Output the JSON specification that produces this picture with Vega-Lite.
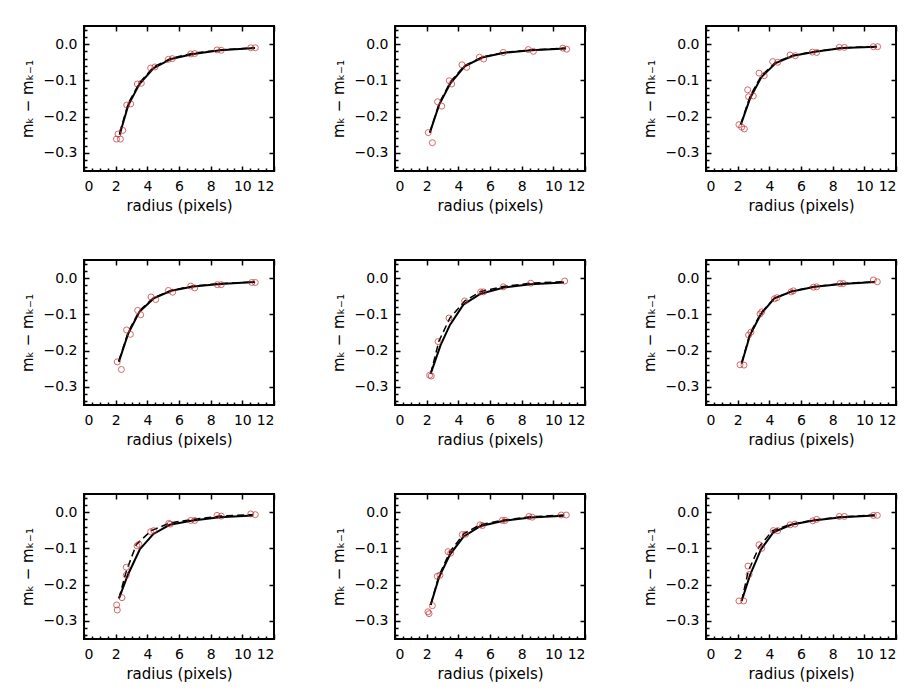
{
  "$schema": "https://vega.github.io/schema/vega-lite/v6.json",
  "background": "white",
  "padding": {"left": 19, "top": 24, "right": 5, "bottom": 5},
  "data": {"values": [
    {"p":1,"t":"pt","r":2.05,"d":-0.262},{"p":1,"t":"pt","r":2.3,"d":-0.262},{"p":1,"t":"pt","r":2.15,"d":-0.248},{"p":1,"t":"pt","r":2.45,"d":-0.238},{"p":1,"t":"pt","r":2.7,"d":-0.168},{"p":1,"t":"pt","r":2.95,"d":-0.165},{"p":1,"t":"pt","r":3.37,"d":-0.11},{"p":1,"t":"pt","r":3.62,"d":-0.108},{"p":1,"t":"pt","r":4.21,"d":-0.066},{"p":1,"t":"pt","r":4.48,"d":-0.063},{"p":1,"t":"pt","r":5.33,"d":-0.042},{"p":1,"t":"pt","r":5.58,"d":-0.04},{"p":1,"t":"pt","r":6.74,"d":-0.027},{"p":1,"t":"pt","r":6.99,"d":-0.026},{"p":1,"t":"pt","r":8.4,"d":-0.016},{"p":1,"t":"pt","r":8.67,"d":-0.017},{"p":1,"t":"pt","r":10.53,"d":-0.01},{"p":1,"t":"pt","r":10.82,"d":-0.01},
    {"p":1,"t":"solid","r":2.25,"d":-0.25},{"p":1,"t":"solid","r":2.8,"d":-0.168},{"p":1,"t":"solid","r":3.5,"d":-0.11},{"p":1,"t":"solid","r":4.4,"d":-0.066},{"p":1,"t":"solid","r":5.5,"d":-0.041},{"p":1,"t":"solid","r":6.9,"d":-0.027},{"p":1,"t":"solid","r":8.6,"d":-0.017},{"p":1,"t":"solid","r":10.8,"d":-0.011},
    {"p":1,"t":"dash","r":2.25,"d":-0.245},{"p":1,"t":"dash","r":2.8,"d":-0.163},{"p":1,"t":"dash","r":3.5,"d":-0.107},{"p":1,"t":"dash","r":4.4,"d":-0.063},{"p":1,"t":"dash","r":5.5,"d":-0.039},{"p":1,"t":"dash","r":6.9,"d":-0.025},{"p":1,"t":"dash","r":8.6,"d":-0.016},{"p":1,"t":"dash","r":10.8,"d":-0.01},

    {"p":2,"t":"pt","r":2.1,"d":-0.244},{"p":2,"t":"pt","r":2.36,"d":-0.272},{"p":2,"t":"pt","r":2.69,"d":-0.159},{"p":2,"t":"pt","r":2.95,"d":-0.171},{"p":2,"t":"pt","r":3.43,"d":-0.101},{"p":2,"t":"pt","r":3.58,"d":-0.11},{"p":2,"t":"pt","r":4.23,"d":-0.057},{"p":2,"t":"pt","r":4.53,"d":-0.064},{"p":2,"t":"pt","r":5.33,"d":-0.036},{"p":2,"t":"pt","r":5.6,"d":-0.041},{"p":2,"t":"pt","r":6.84,"d":-0.023},{"p":2,"t":"pt","r":8.42,"d":-0.015},{"p":2,"t":"pt","r":8.74,"d":-0.02},{"p":2,"t":"pt","r":10.6,"d":-0.011},{"p":2,"t":"pt","r":10.84,"d":-0.014},
    {"p":2,"t":"solid","r":2.2,"d":-0.244},{"p":2,"t":"solid","r":2.8,"d":-0.166},{"p":2,"t":"solid","r":3.5,"d":-0.108},{"p":2,"t":"solid","r":4.4,"d":-0.061},{"p":2,"t":"solid","r":5.5,"d":-0.037},{"p":2,"t":"solid","r":6.9,"d":-0.024},{"p":2,"t":"solid","r":8.6,"d":-0.017},{"p":2,"t":"solid","r":10.8,"d":-0.012},
    {"p":2,"t":"dash","r":2.2,"d":-0.244},{"p":2,"t":"dash","r":2.8,"d":-0.162},{"p":2,"t":"dash","r":3.5,"d":-0.104},{"p":2,"t":"dash","r":4.4,"d":-0.059},{"p":2,"t":"dash","r":5.5,"d":-0.036},{"p":2,"t":"dash","r":6.9,"d":-0.023},{"p":2,"t":"dash","r":8.6,"d":-0.016},{"p":2,"t":"dash","r":10.8,"d":-0.011},

    {"p":3,"t":"pt","r":2.08,"d":-0.222},{"p":3,"t":"pt","r":2.25,"d":-0.229},{"p":3,"t":"pt","r":2.42,"d":-0.234},{"p":3,"t":"pt","r":2.63,"d":-0.126},{"p":3,"t":"pt","r":2.69,"d":-0.145},{"p":3,"t":"pt","r":2.99,"d":-0.143},{"p":3,"t":"pt","r":3.35,"d":-0.08},{"p":3,"t":"pt","r":3.68,"d":-0.087},{"p":3,"t":"pt","r":4.21,"d":-0.048},{"p":3,"t":"pt","r":4.53,"d":-0.05},{"p":3,"t":"pt","r":5.31,"d":-0.03},{"p":3,"t":"pt","r":5.64,"d":-0.032},{"p":3,"t":"pt","r":6.72,"d":-0.022},{"p":3,"t":"pt","r":6.99,"d":-0.023},{"p":3,"t":"pt","r":8.42,"d":-0.009},{"p":3,"t":"pt","r":8.74,"d":-0.009},{"p":3,"t":"pt","r":10.57,"d":-0.007},{"p":3,"t":"pt","r":10.84,"d":-0.007},
    {"p":3,"t":"solid","r":2.2,"d":-0.222},{"p":3,"t":"solid","r":2.8,"d":-0.148},{"p":3,"t":"solid","r":3.5,"d":-0.091},{"p":3,"t":"solid","r":4.4,"d":-0.052},{"p":3,"t":"solid","r":5.5,"d":-0.032},{"p":3,"t":"solid","r":6.9,"d":-0.021},{"p":3,"t":"solid","r":8.6,"d":-0.011},{"p":3,"t":"solid","r":10.8,"d":-0.007},
    {"p":3,"t":"dash","r":2.2,"d":-0.22},{"p":3,"t":"dash","r":2.8,"d":-0.142},{"p":3,"t":"dash","r":3.5,"d":-0.087},{"p":3,"t":"dash","r":4.4,"d":-0.05},{"p":3,"t":"dash","r":5.5,"d":-0.031},{"p":3,"t":"dash","r":6.9,"d":-0.02},{"p":3,"t":"dash","r":8.6,"d":-0.01},{"p":3,"t":"dash","r":10.8,"d":-0.007},

    {"p":4,"t":"pt","r":2.1,"d":-0.231},{"p":4,"t":"pt","r":2.36,"d":-0.252},{"p":4,"t":"pt","r":2.69,"d":-0.143},{"p":4,"t":"pt","r":2.93,"d":-0.155},{"p":4,"t":"pt","r":3.39,"d":-0.089},{"p":4,"t":"pt","r":3.58,"d":-0.101},{"p":4,"t":"pt","r":4.23,"d":-0.052},{"p":4,"t":"pt","r":4.53,"d":-0.059},{"p":4,"t":"pt","r":5.33,"d":-0.034},{"p":4,"t":"pt","r":5.6,"d":-0.039},{"p":4,"t":"pt","r":6.74,"d":-0.022},{"p":4,"t":"pt","r":6.99,"d":-0.027},{"p":4,"t":"pt","r":8.42,"d":-0.018},{"p":4,"t":"pt","r":8.67,"d":-0.018},{"p":4,"t":"pt","r":10.6,"d":-0.012},{"p":4,"t":"pt","r":10.82,"d":-0.012},
    {"p":4,"t":"solid","r":2.2,"d":-0.231},{"p":4,"t":"solid","r":2.8,"d":-0.152},{"p":4,"t":"solid","r":3.5,"d":-0.093},{"p":4,"t":"solid","r":4.4,"d":-0.056},{"p":4,"t":"solid","r":5.5,"d":-0.035},{"p":4,"t":"solid","r":6.9,"d":-0.023},{"p":4,"t":"solid","r":8.6,"d":-0.016},{"p":4,"t":"solid","r":10.8,"d":-0.011},
    {"p":4,"t":"dash","r":2.2,"d":-0.228},{"p":4,"t":"dash","r":2.8,"d":-0.148},{"p":4,"t":"dash","r":3.5,"d":-0.09},{"p":4,"t":"dash","r":4.4,"d":-0.054},{"p":4,"t":"dash","r":5.5,"d":-0.034},{"p":4,"t":"dash","r":6.9,"d":-0.022},{"p":4,"t":"dash","r":8.6,"d":-0.015},{"p":4,"t":"dash","r":10.8,"d":-0.011},

    {"p":5,"t":"pt","r":2.19,"d":-0.268},{"p":5,"t":"pt","r":2.29,"d":-0.27},{"p":5,"t":"pt","r":2.72,"d":-0.175},{"p":5,"t":"pt","r":3.41,"d":-0.11},{"p":5,"t":"pt","r":4.4,"d":-0.063},{"p":5,"t":"pt","r":5.41,"d":-0.038},{"p":5,"t":"pt","r":5.58,"d":-0.038},{"p":5,"t":"pt","r":6.84,"d":-0.024},{"p":5,"t":"pt","r":8.57,"d":-0.014},{"p":5,"t":"pt","r":10.72,"d":-0.008},
    {"p":5,"t":"solid","r":2.25,"d":-0.264},{"p":5,"t":"solid","r":2.88,"d":-0.185},{"p":5,"t":"solid","r":3.47,"d":-0.129},{"p":5,"t":"solid","r":4.32,"d":-0.073},{"p":5,"t":"solid","r":5.41,"d":-0.043},{"p":5,"t":"solid","r":6.88,"d":-0.026},{"p":5,"t":"solid","r":8.57,"d":-0.017},{"p":5,"t":"solid","r":10.67,"d":-0.012},
    {"p":5,"t":"dash","r":2.25,"d":-0.264},{"p":5,"t":"dash","r":2.78,"d":-0.173},{"p":5,"t":"dash","r":3.47,"d":-0.11},{"p":5,"t":"dash","r":4.4,"d":-0.063},{"p":5,"t":"dash","r":5.41,"d":-0.037},{"p":5,"t":"dash","r":6.84,"d":-0.023},{"p":5,"t":"dash","r":8.57,"d":-0.014},{"p":5,"t":"dash","r":10.67,"d":-0.01},

    {"p":6,"t":"pt","r":2.15,"d":-0.239},{"p":6,"t":"pt","r":2.4,"d":-0.24},{"p":6,"t":"pt","r":2.69,"d":-0.157},{"p":6,"t":"pt","r":2.84,"d":-0.149},{"p":6,"t":"pt","r":3.41,"d":-0.099},{"p":6,"t":"pt","r":3.52,"d":-0.093},{"p":6,"t":"pt","r":4.32,"d":-0.057},{"p":6,"t":"pt","r":4.48,"d":-0.054},{"p":6,"t":"pt","r":5.37,"d":-0.038},{"p":6,"t":"pt","r":5.52,"d":-0.035},{"p":6,"t":"pt","r":6.78,"d":-0.025},{"p":6,"t":"pt","r":6.99,"d":-0.024},{"p":6,"t":"pt","r":8.46,"d":-0.015},{"p":6,"t":"pt","r":8.67,"d":-0.015},{"p":6,"t":"pt","r":10.57,"d":-0.005},{"p":6,"t":"pt","r":10.82,"d":-0.01},
    {"p":6,"t":"solid","r":2.25,"d":-0.236},{"p":6,"t":"solid","r":2.78,"d":-0.157},{"p":6,"t":"solid","r":3.47,"d":-0.099},{"p":6,"t":"solid","r":4.32,"d":-0.056},{"p":6,"t":"solid","r":5.41,"d":-0.037},{"p":6,"t":"solid","r":6.88,"d":-0.024},{"p":6,"t":"solid","r":8.57,"d":-0.016},{"p":6,"t":"solid","r":10.67,"d":-0.011},
    {"p":6,"t":"dash","r":2.25,"d":-0.234},{"p":6,"t":"dash","r":2.78,"d":-0.153},{"p":6,"t":"dash","r":3.47,"d":-0.096},{"p":6,"t":"dash","r":4.32,"d":-0.055},{"p":6,"t":"dash","r":5.41,"d":-0.036},{"p":6,"t":"dash","r":6.88,"d":-0.023},{"p":6,"t":"dash","r":8.57,"d":-0.015},{"p":6,"t":"dash","r":10.67,"d":-0.01},

    {"p":7,"t":"pt","r":2.06,"d":-0.256},{"p":7,"t":"pt","r":2.1,"d":-0.27},{"p":7,"t":"pt","r":2.4,"d":-0.236},{"p":7,"t":"pt","r":2.67,"d":-0.152},{"p":7,"t":"pt","r":2.67,"d":-0.174},{"p":7,"t":"pt","r":3.35,"d":-0.093},{"p":7,"t":"pt","r":3.47,"d":-0.089},{"p":7,"t":"pt","r":4.21,"d":-0.054},{"p":7,"t":"pt","r":4.4,"d":-0.051},{"p":7,"t":"pt","r":5.35,"d":-0.031},{"p":7,"t":"pt","r":5.45,"d":-0.033},{"p":7,"t":"pt","r":6.74,"d":-0.023},{"p":7,"t":"pt","r":6.99,"d":-0.023},{"p":7,"t":"pt","r":8.4,"d":-0.009},{"p":7,"t":"pt","r":8.67,"d":-0.011},{"p":7,"t":"pt","r":10.53,"d":-0.005},{"p":7,"t":"pt","r":10.82,"d":-0.007},
    {"p":7,"t":"solid","r":2.21,"d":-0.238},{"p":7,"t":"solid","r":2.78,"d":-0.172},{"p":7,"t":"solid","r":3.52,"d":-0.103},{"p":7,"t":"solid","r":4.36,"d":-0.061},{"p":7,"t":"solid","r":5.41,"d":-0.035},{"p":7,"t":"solid","r":6.88,"d":-0.023},{"p":7,"t":"solid","r":8.57,"d":-0.014},{"p":7,"t":"solid","r":10.67,"d":-0.009},
    {"p":7,"t":"dash","r":2.21,"d":-0.238},{"p":7,"t":"dash","r":2.67,"d":-0.163},{"p":7,"t":"dash","r":3.31,"d":-0.089},{"p":7,"t":"dash","r":4.25,"d":-0.051},{"p":7,"t":"dash","r":5.41,"d":-0.03},{"p":7,"t":"dash","r":6.88,"d":-0.02},{"p":7,"t":"dash","r":8.57,"d":-0.011},{"p":7,"t":"dash","r":10.67,"d":-0.007},

    {"p":8,"t":"pt","r":2.08,"d":-0.275},{"p":8,"t":"pt","r":2.15,"d":-0.28},{"p":8,"t":"pt","r":2.36,"d":-0.258},{"p":8,"t":"pt","r":2.67,"d":-0.177},{"p":8,"t":"pt","r":2.84,"d":-0.174},{"p":8,"t":"pt","r":3.35,"d":-0.109},{"p":8,"t":"pt","r":3.52,"d":-0.113},{"p":8,"t":"pt","r":4.25,"d":-0.062},{"p":8,"t":"pt","r":4.46,"d":-0.061},{"p":8,"t":"pt","r":5.37,"d":-0.035},{"p":8,"t":"pt","r":5.52,"d":-0.037},{"p":8,"t":"pt","r":6.78,"d":-0.023},{"p":8,"t":"pt","r":6.95,"d":-0.023},{"p":8,"t":"pt","r":8.46,"d":-0.012},{"p":8,"t":"pt","r":8.67,"d":-0.014},{"p":8,"t":"pt","r":10.5,"d":-0.008},{"p":8,"t":"pt","r":10.82,"d":-0.008},
    {"p":8,"t":"solid","r":2.25,"d":-0.256},{"p":8,"t":"solid","r":2.78,"d":-0.18},{"p":8,"t":"solid","r":3.47,"d":-0.117},{"p":8,"t":"solid","r":4.32,"d":-0.068},{"p":8,"t":"solid","r":5.41,"d":-0.038},{"p":8,"t":"solid","r":6.88,"d":-0.024},{"p":8,"t":"solid","r":8.57,"d":-0.015},{"p":8,"t":"solid","r":10.67,"d":-0.01},
    {"p":8,"t":"dash","r":2.25,"d":-0.256},{"p":8,"t":"dash","r":2.78,"d":-0.175},{"p":8,"t":"dash","r":3.47,"d":-0.109},{"p":8,"t":"dash","r":4.36,"d":-0.059},{"p":8,"t":"dash","r":5.41,"d":-0.034},{"p":8,"t":"dash","r":6.88,"d":-0.022},{"p":8,"t":"dash","r":8.57,"d":-0.013},{"p":8,"t":"dash","r":10.67,"d":-0.008},

    {"p":9,"t":"pt","r":2.08,"d":-0.245},{"p":9,"t":"pt","r":2.38,"d":-0.245},{"p":9,"t":"pt","r":2.65,"d":-0.149},{"p":9,"t":"pt","r":2.72,"d":-0.172},{"p":9,"t":"pt","r":3.35,"d":-0.09},{"p":9,"t":"pt","r":3.52,"d":-0.1},{"p":9,"t":"pt","r":4.25,"d":-0.051},{"p":9,"t":"pt","r":4.53,"d":-0.051},{"p":9,"t":"pt","r":5.31,"d":-0.035},{"p":9,"t":"pt","r":5.62,"d":-0.033},{"p":9,"t":"pt","r":6.74,"d":-0.024},{"p":9,"t":"pt","r":6.99,"d":-0.02},{"p":9,"t":"pt","r":8.42,"d":-0.012},{"p":9,"t":"pt","r":8.74,"d":-0.012},{"p":9,"t":"pt","r":10.57,"d":-0.009},{"p":9,"t":"pt","r":10.82,"d":-0.009},
    {"p":9,"t":"solid","r":2.25,"d":-0.245},{"p":9,"t":"solid","r":2.78,"d":-0.174},{"p":9,"t":"solid","r":3.47,"d":-0.103},{"p":9,"t":"solid","r":4.25,"d":-0.056},{"p":9,"t":"solid","r":5.37,"d":-0.035},{"p":9,"t":"solid","r":6.78,"d":-0.023},{"p":9,"t":"solid","r":8.57,"d":-0.014},{"p":9,"t":"solid","r":10.67,"d":-0.009},
    {"p":9,"t":"dash","r":2.25,"d":-0.245},{"p":9,"t":"dash","r":2.67,"d":-0.163},{"p":9,"t":"dash","r":3.35,"d":-0.096},{"p":9,"t":"dash","r":4.2,"d":-0.051},{"p":9,"t":"dash","r":5.31,"d":-0.034},{"p":9,"t":"dash","r":6.78,"d":-0.022},{"p":9,"t":"dash","r":8.57,"d":-0.013},{"p":9,"t":"dash","r":10.67,"d":-0.008}
  ]},
  "facet": {"field": "p", "type": "ordinal", "title": null, "header": {"labelExpr": "''", "labelFontSize": 0, "labelPadding": 0, "titlePadding": 0}},
  "columns": 3,
  "spacing": {"column": 54, "row": 44},
  "resolve": {"axis": {"x": "independent", "y": "independent"}},
  "spec": {
    "width": 190,
    "height": 145,
    "layer": [
      {
        "transform": [{"filter": "datum.t === 'solid'"}],
        "mark": {"type": "line", "color": "black", "strokeWidth": 2},
        "encoding": {
          "x": {"field": "r", "type": "quantitative", "scale": {"domain": [0, 12], "nice": false, "zero": false},
                "axis": {"orient": "top", "values": [0,2,4,6,8,10,12], "labels": false, "title": null, "tickSize": -5}},
          "y": {"field": "d", "type": "quantitative", "scale": {"domain": [-0.35, 0.05], "nice": false, "zero": false},
                "axis": {"orient": "right", "values": [-0.3,-0.2,-0.1,0], "labels": false, "title": null, "tickSize": -5}}
        }
      },
      {
        "transform": [{"filter": "datum.t === 'dash'"}],
        "mark": {"type": "line", "color": "black", "strokeWidth": 1.5, "strokeDash": [7, 4]},
        "encoding": {
          "x": {"field": "r", "type": "quantitative",
                "axis": {"orient": "bottom", "values": [0.5,1,1.5,2.5,3,3.5,4.5,5,5.5,6.5,7,7.5,8.5,9,9.5,10.5,11,11.5], "labels": false, "title": null, "tickSize": -3}},
          "y": {"field": "d", "type": "quantitative",
                "axis": {"orient": "left", "values": [-0.34,-0.32,-0.28,-0.26,-0.24,-0.22,-0.18,-0.16,-0.14,-0.12,-0.08,-0.06,-0.04,-0.02,0.02,0.04], "labels": false, "title": null, "tickSize": -3}}
        }
      },
      {
        "transform": [{"filter": "datum.t === 'pt'"}],
        "mark": {"type": "point", "shape": "circle", "filled": false, "color": "#c02a2a", "size": 36, "strokeWidth": 1},
        "encoding": {
          "x": {"field": "r", "type": "quantitative",
                "axis": {"orient": "bottom", "values": [0,2,4,6,8,10,12], "format": "d", "title": "radius (pixels)", "tickSize": -5, "labelPadding": 13, "titlePadding": 5}},
          "y": {"field": "d", "type": "quantitative",
                "axis": {"orient": "left", "values": [-0.3,-0.2,-0.1,0], "format": ".1f", "title": "mₖ − mₖ₋₁", "tickSize": -5, "labelPadding": 12, "titlePadding": 8}}
        }
      }
    ],
    "resolve": {"axis": {"x": "independent", "y": "independent"}}
  },
  "config": {
    "view": {"stroke": "black", "strokeWidth": 2},
    "header": {"labels": false, "title": null, "labelPadding": 0, "titlePadding": 0},
    "headerFacet": {"labels": false, "title": null, "labelPadding": 0, "titlePadding": 0},
    "axis": {
      "domain": false,
      "grid": false,
      "tickColor": "black",
      "tickWidth": 1.5,
      "labelFont": "DejaVu Sans",
      "labelFontSize": 14,
      "labelColor": "black",
      "titleFont": "DejaVu Sans",
      "titleFontSize": 15,
      "titleFontWeight": "normal",
      "titleColor": "black"
    }
  }
}
